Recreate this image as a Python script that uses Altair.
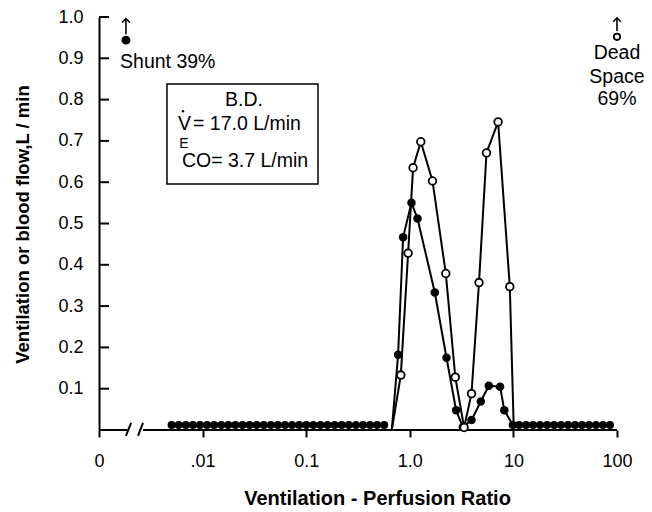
import altair as alt
import pandas as pd

FONT = "Liberation Sans"

# ---------------- data ----------------
# compartments with (near) zero flow, drawn as filled dots along the axis
vq_zero_left = [0.00502, 0.00588, 0.00688, 0.00806, 0.00943, 0.01104, 0.01292, 0.01513,
                0.01771, 0.02073, 0.02427, 0.02841, 0.03326, 0.03893, 0.04557, 0.05333,
                0.06243, 0.07309, 0.08555, 0.1001, 0.1172, 0.1372, 0.1606, 0.1880,
                0.2201, 0.2576, 0.3016, 0.3530, 0.4132, 0.4837, 0.5662]
vq_zero_right = [11.35, 13.26, 15.49, 18.09, 21.13, 24.69, 28.84, 33.69, 39.36,
                 45.97, 53.70, 62.73, 73.28, 85.60]
zero_level = 0.012

# blood flow (filled circles)
blood_vq = [0.670, 0.771, 0.862, 1.038, 1.187, 1.743, 2.261, 2.798, 3.248, 3.941,
            4.845, 5.788, 7.440, 8.170, 9.868]
blood_flow = [0.0, 0.182, 0.467, 0.550, 0.512, 0.333, 0.175, 0.048, 0.007, 0.024,
              0.069, 0.107, 0.105, 0.048, 0.012]

# ventilation (open circles)
vent_vq = [0.670, 0.819, 0.963, 1.076, 1.277, 1.656, 2.226, 2.749, 3.343, 3.941,
           4.656, 5.500, 7.117, 9.232, 10.09]
vent_flow = [0.0, 0.133, 0.428, 0.635, 0.698, 0.603, 0.379, 0.128, 0.006, 0.088,
             0.357, 0.671, 0.746, 0.347, 0.0]

# shunt / dead space markers
shunt_vq, shunt_val = 0.00182, 0.944
dead_vq, dead_val = 100, 0.952

x_tick_values = [0.001, 0.01, 0.1, 1, 10, 100]
x_tick_labels = ["0", ".01", "0.1", "1.0", "10", "100"]
y_tick_values = [0.1, 0.2, 0.3, 0.4, 0.5, 0.6, 0.7, 0.8, 0.9, 1.0]

# ---------------- tables ----------------
zero_df = pd.DataFrame({"x": vq_zero_left + vq_zero_right,
                        "y": [zero_level] * (len(vq_zero_left) + len(vq_zero_right))})
blood_df = pd.DataFrame({"x": blood_vq, "y": blood_flow})
vent_df = pd.DataFrame({"x": vent_vq, "y": vent_flow})

# axis pieces (with the break near zero)
axis_seg = pd.DataFrame({
    "x": [0.001, 0.00266, 0.00182, 0.00238],
    "x2": [0.00188, 100, 0.00204, 0.00266],
    "y": [0.0, 0.0, -0.014, -0.014],
    "y2": [0.0, 0.0, 0.017, 0.017],
})
ytick_df = pd.DataFrame({"x": [0.001] * len(y_tick_values),
                         "x2": [0.00125] * len(y_tick_values),
                         "y": y_tick_values, "y2": y_tick_values})

box_df = pd.DataFrame({"x": [0.00453], "x2": [0.1300], "y": [0.8378], "y2": [0.5956]})

arrow_df = pd.DataFrame({"x": [shunt_vq, dead_vq], "y": [0.958, 0.966], "y2": [0.996, 0.998]})
arrow_tip_df = pd.DataFrame({"x": [shunt_vq, dead_vq], "y": [0.996, 0.998]})

text_left = pd.DataFrame({
    "x": [0.001596, 0.005787, 0.00808],
    "y": [0.891, 0.741, 0.741],
    "t": ["Shunt 39%", "V", "= 17.0 L/min"],
})
text_center = pd.DataFrame({
    "x": [0.0251, 0.0257, dead_vq, dead_vq, dead_vq],
    "y": [0.799, 0.6513, 0.9128, 0.8547, 0.8015],
    "t": ["B.D.", "CO= 3.7 L/min", "Dead", "Space", "69%"],
})
text_sub = pd.DataFrame({"x": [0.00662], "y": [0.6925], "t": ["E"]})
dot_df = pd.DataFrame({"x": [0.00647], "y": [0.7720]})

# ---------------- encodings ----------------
xscale = alt.Scale(type="log", domain=[0.001, 100], nice=False)
yscale = alt.Scale(domain=[0, 1.0], nice=False, zero=True)

label_expr = ""
for v, lab in zip(x_tick_values, x_tick_labels):
    label_expr += f"abs(datum.value - {v}) < {v} * 0.01 ? '{lab}' : "
label_expr += "''"

x_axis = alt.Axis(values=x_tick_values, labelExpr=label_expr, domain=False,
                  tickSize=7, tickWidth=2, tickColor="black",
                  labelFont=FONT, labelFontSize=18, labelColor="black",
                  labelPadding=15, labelFlush=False, labelOverlap=False, grid=False,
                  title="Ventilation - Perfusion Ratio", titleFont=FONT,
                  titleFontSize=20, titleFontWeight="bold", titleColor="black",
                  titleX=278, titleY=68, titleAlign="center", titleBaseline="middle")
y_axis = alt.Axis(values=y_tick_values, format=".1f", domain=True, domainColor="black",
                  domainWidth=2, ticks=False, labelPadding=16, labelFont=FONT,
                  labelFontSize=18, labelColor="black", labelFlush=False, grid=False,
                  title="Ventilation or blood flow,L / min", titleFont=FONT,
                  titleFontSize=18.5, titleFontWeight="bold", titleColor="black",
                  titleX=-77, titleY=207, titleAlign="center", titleBaseline="middle",
                  titleAngle=270)


def X():
    return alt.X("x:Q", scale=xscale, axis=x_axis)


def Y():
    return alt.Y("y:Q", scale=yscale, axis=y_axis)


blood_line = alt.Chart(blood_df).mark_line(color="black", strokeWidth=2).encode(
    x=X(), y=Y())
vent_line = alt.Chart(vent_df).mark_line(color="black", strokeWidth=2).encode(
    x=X(), y=Y())

zero_pts = alt.Chart(zero_df).mark_point(shape="circle", filled=True, color="black",
                                         size=64, opacity=1).encode(x=X(), y=Y())
blood_pts = alt.Chart(blood_df).transform_filter("datum.y > 0").mark_point(
    shape="circle", filled=True, color="black", size=72, opacity=1).encode(x=X(), y=Y())
vent_pts = alt.Chart(vent_df).transform_filter("datum.y > 0").mark_point(
    shape="circle", filled=True, fill="white", stroke="black", strokeWidth=1.8,
    size=58, opacity=1).encode(x=X(), y=Y())

shunt_pt = alt.Chart(pd.DataFrame({"x": [shunt_vq], "y": [shunt_val]})).mark_point(
    shape="circle", filled=True, color="black", size=80, opacity=1).encode(x=X(), y=Y())
dead_pt = alt.Chart(pd.DataFrame({"x": [dead_vq], "y": [dead_val]})).mark_point(
    shape="circle", filled=True, fill="white", stroke="black", strokeWidth=1.8,
    size=40, opacity=1).encode(x=X(), y=Y())

arrow_stem = alt.Chart(arrow_df).mark_rule(color="black", strokeWidth=1.6).encode(
    x=X(), y=Y(), y2="y2:Q")
arrow_head = alt.Chart(arrow_tip_df).mark_point(
    shape="M-1,1L0,0L1,1", filled=False, stroke="black", strokeWidth=1.6,
    size=60, opacity=1).encode(x=X(), y=Y())

axis_lines = alt.Chart(axis_seg).mark_rule(color="black", strokeWidth=2).encode(
    x=X(), x2="x2:Q", y=Y(), y2="y2:Q")
ytick_lines = alt.Chart(ytick_df).mark_rule(color="black", strokeWidth=2).encode(
    x=X(), x2="x2:Q", y=Y(), y2="y2:Q")

box = alt.Chart(box_df).mark_rect(fill="white", fillOpacity=0, stroke="black",
                                  strokeWidth=1.5).encode(x=X(), x2="x2:Q", y=Y(), y2="y2:Q")

t_left = alt.Chart(text_left).mark_text(align="left", baseline="middle", font=FONT,
                                        fontSize=19.5, color="black").encode(
    x=X(), y=Y(), text="t:N")
t_center = alt.Chart(text_center).mark_text(align="center", baseline="middle", font=FONT,
                                            fontSize=19.5, color="black").encode(
    x=X(), y=Y(), text="t:N")
t_sub = alt.Chart(text_sub).mark_text(align="center", baseline="middle", font=FONT,
                                      fontSize=14, color="black").encode(
    x=X(), y=Y(), text="t:N")
v_dot = alt.Chart(dot_df).mark_point(shape="circle", filled=True, color="black",
                                     size=6, opacity=1).encode(x=X(), y=Y())

chart = alt.layer(
    blood_line, vent_line, axis_lines, ytick_lines, zero_pts, blood_pts, vent_pts,
    arrow_stem, arrow_head, shunt_pt, dead_pt, box, t_left, t_center, t_sub, v_dot,
).properties(
    width=518, height=413,
    autosize=alt.AutoSizeParams(type="none"),
    padding={"left": 99, "top": 17, "right": 35, "bottom": 82},
    background="white",
).configure_view(stroke="transparent")

chart.save("out.html", embed_options={"renderer": "svg", "actions": False})
